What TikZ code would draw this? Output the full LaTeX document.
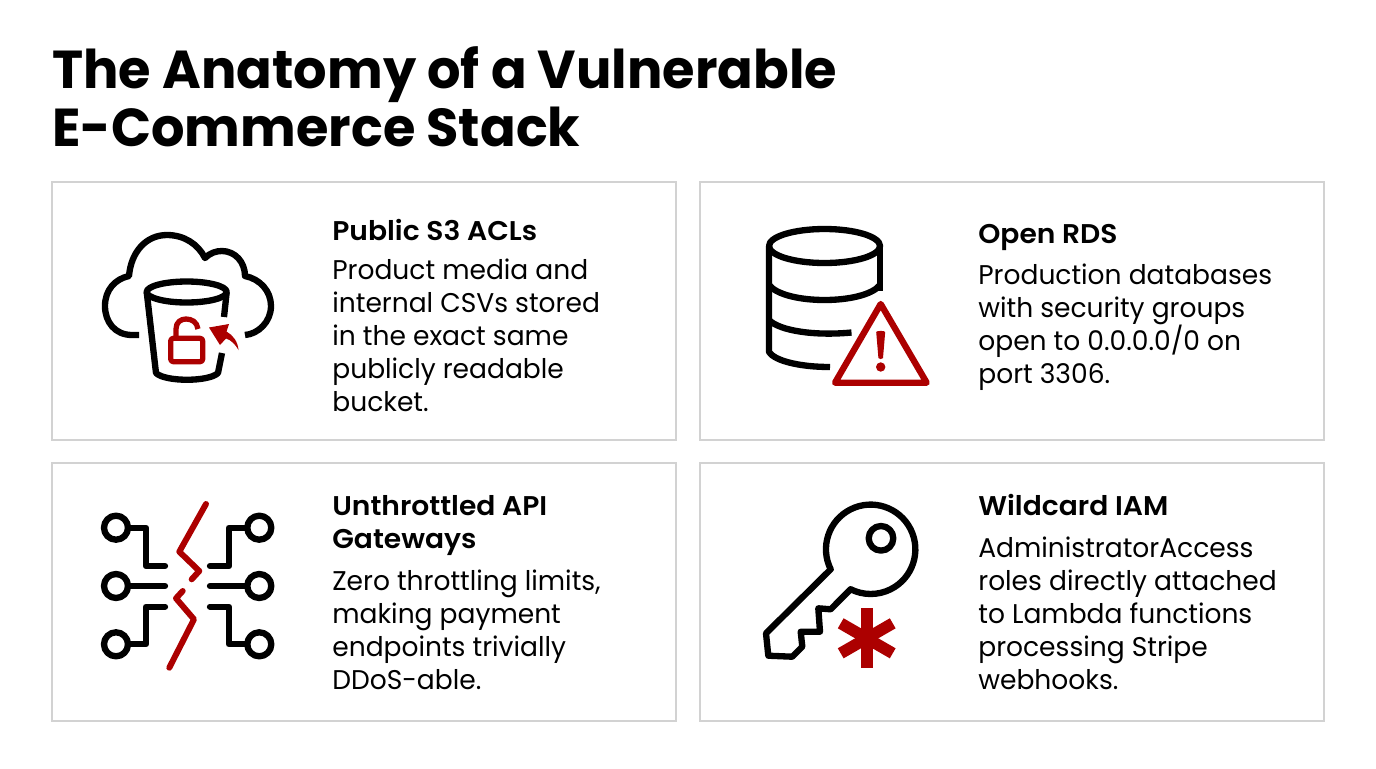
\documentclass[tikz,border=0pt]{standalone}
\usepackage{fontspec}
\setmainfont{Poppins}
\newfontfamily\titlefont[FakeStretch=0.985]{Poppins}
\newfontfamily\headfont[FakeStretch=1.04]{Poppins SemiBold}
\newfontfamily\cardfont[FakeStretch=0.98]{Poppins}
\usepackage{xcolor}
\usetikzlibrary{positioning}
\definecolor{cardgray}{HTML}{D2D2D2}
\definecolor{alertred}{HTML}{AC0000}
\tikzset{
  cardbox/.style={draw=cardgray, line width=1.5pt},
  iconline/.style={draw=black, line width=3.6pt, line join=round},
  iconred/.style={draw=alertred, line width=3.4pt, line join=round, line cap=round},
  titletext/.style={anchor=base west, inner sep=0pt, font=\titlefont\fontsize{30.4}{34}\selectfont\bfseries},
  headtext/.style={anchor=base west, inner sep=0pt, font=\headfont\fontsize{15.4}{18}\selectfont},
  bodytext/.style={anchor=base west, inner sep=0pt, font=\cardfont\fontsize{15.4}{18}\selectfont},
}

\begin{document}
\begin{tikzpicture}[x=0.02cm,y=-0.02cm]
\useasboundingbox (0,0) rectangle (1376,768);

% ---------- Title ----------
\node[titletext] (title1) at (52,88) {The Anatomy of a Vulnerable};
\node[titletext] (title2) at (52,146) {E-Commerce Stack};

% ---------- Cards ----------
\draw[cardbox] (52,182) rectangle (676,440);
\draw[cardbox] (700,182) rectangle (1324,440);
\draw[cardbox] (52,463) rectangle (676,721);
\draw[cardbox] (700,463) rectangle (1324,721);

% ---------- Card 1 text ----------
\node[headtext] (s3head) at (332,240) {Public S3 ACLs};
\node[bodytext] (s3a) at (332,279) {Product media and};
\node[bodytext] (s3b) at (332,312) {internal CSVs stored};
\node[bodytext] (s3c) at (332,345) {in the exact same};
\node[bodytext] (s3d) at (332,378) {publicly readable};
\node[bodytext] (s3e) at (332,411) {bucket.};

% ---------- Card 2 text ----------
\node[headtext] (rdshead) at (978,243) {Open RDS};
\node[bodytext] (rdsa) at (978,284) {Production databases};
\node[bodytext] (rdsb) at (978,317) {with security groups};
\node[bodytext] (rdsc) at (978,350) {open to 0.0.0.0/0 on};
\node[bodytext] (rdsd) at (978,383) {port 3306.};

% ---------- Card 3 text ----------
\node[headtext] (apihead) at (332,515) {Unthrottled API};
\node[headtext] (apihead2) at (332,548) {Gateways};
\node[bodytext] (apia) at (332,590) {Zero throttling limits,};
\node[bodytext] (apib) at (332,623) {making payment};
\node[bodytext] (apic) at (332,656) {endpoints trivially};
\node[bodytext] (apid) at (332,689) {DDoS-able.};

% ---------- Card 4 text ----------
\node[headtext] (iamhead) at (978,515) {Wildcard IAM};
\node[bodytext] (iama) at (978,557) {AdministratorAccess};
\node[bodytext] (iamb) at (978,590) {roles directly attached};
\node[bodytext] (iamc) at (978,623) {to Lambda functions};
\node[bodytext] (iamd) at (978,656) {processing Stripe};
\node[bodytext] (iame) at (978,689) {webhooks.};

% ---------- Cloud bucket icon ----------
\draw[iconline]
  (139,335) -- (132,335) .. controls (115,335) and (105,322) .. (105,306)
  .. controls (105,290) and (115,279) .. (129,276)
  .. controls (131,252) and (146,235) .. (167,235)
  .. controls (184,235) and (198,244) .. (205,258)
  .. controls (210,253) and (216,251) .. (222,251)
  .. controls (235,251) and (245,262) .. (245,276)
  .. controls (260,279) and (271,291) .. (271,306)
  .. controls (271,322) and (258,334) .. (245,335);
\draw[iconline] (186.7,292) ellipse (40 and 10.5);
\draw[iconline] (146.7,292) -- (156,373) .. controls (165,382) and (209,382) .. (218,373) -- (222,353);
\draw[iconline] (226.7,292) -- (224,317);

% Lock
\draw[iconred, line width=3pt, rounded corners=1.5pt] (170.7,338.3) rectangle (202.7,361.7);
\draw[iconred, line width=3pt, line cap=butt]
  (176,338) -- (176,329) .. controls (176,322) and (181,319) .. (186,319)
  .. controls (192,319) and (197,322) .. (198,329);

% Arrow
\fill[alertred] (209,327.5) -- (229,324) -- (226.5,331.5)
  .. controls (233,335) and (238,342) .. (238.5,350)
  .. controls (235,344) and (231,340) .. (226,338.5)
  -- (220,345) -- cycle;

% ---------- Database icon ----------
\draw[iconline] (824.5,246) ellipse (55.5 and 17);
\draw[iconline] (880,246) -- (880,291);
\draw[iconline] (769,246) -- (769,352) .. controls (775,361) and (800,367) .. (830,367);
\draw[iconline] (769,285) .. controls (785,305) and (864,305) .. (880,285);
\draw[iconline] (769,320) .. controls (780,331) and (815,336) .. (851.5,332.5);

% Warning sign
\draw[iconred, line width=3.6pt] (880.7,304) -- (926.7,382.7) -- (835,382.7) -- cycle;
\fill[alertred] (876.2,332) .. controls (877,330.5) and (884.5,330.5) .. (885.2,332)
  -- (883,358) .. controls (882.5,359.5) and (878.9,359.5) .. (878.4,358) -- cycle;
\fill[alertred] (880.7,367) circle (4.7);

% ---------- Broken network icon ----------
\draw[iconline] (116,527.7) circle (12);
\draw[iconline] (116,586) circle (12);
\draw[iconline] (116,644.3) circle (12);
\draw[iconline] (259.3,527.7) circle (12);
\draw[iconline] (259.3,586) circle (12);
\draw[iconline] (259.3,644.3) circle (12);

\draw[iconline, line cap=round] (128,527.7) -- (146,527.7) -- (146,566) -- (165,566);
\draw[iconline, line cap=round] (128,586) -- (165,586);
\draw[iconline, line cap=round] (128,644.3) -- (146,644.3) -- (146,606.7) -- (165,606.7);
\draw[iconline, line cap=round] (247,527.7) -- (229,527.7) -- (229,566) -- (210,566);
\draw[iconline, line cap=round] (247,586) -- (210,586);
\draw[iconline, line cap=round] (247,644.3) -- (229,644.3) -- (229,606.7) -- (210,606.7);

\draw[iconred] (206,504) -- (179.3,551.7) -- (199.3,571) -- (191.7,579.3);
\draw[iconred] (182.7,591) -- (176,598.3) -- (194,619.3) -- (169.3,667.7);

% ---------- Key icon ----------
\draw[iconline] (830.7,569.3) arc (153.4:476.7:44.7)
  -- (830.7,609.3) -- (818.3,608.3) -- (820,631.7) -- (800.7,631.7)
  -- (802.3,646.7) -- (792.3,656.7) -- (768.3,655.7) -- (766,633.3) -- cycle;
\draw[iconline] (881,538.3) circle (12.3);

% Asterisk
\draw[alertred, line width=6.6pt] (866.7,608.3) -- (866.7,668.3);
\draw[alertred, line width=6.6pt] (840.7,623.3) -- (892.7,653.3);
\draw[alertred, line width=6.6pt] (840.7,653.3) -- (892.7,623.3);

\end{tikzpicture}
\end{document}
